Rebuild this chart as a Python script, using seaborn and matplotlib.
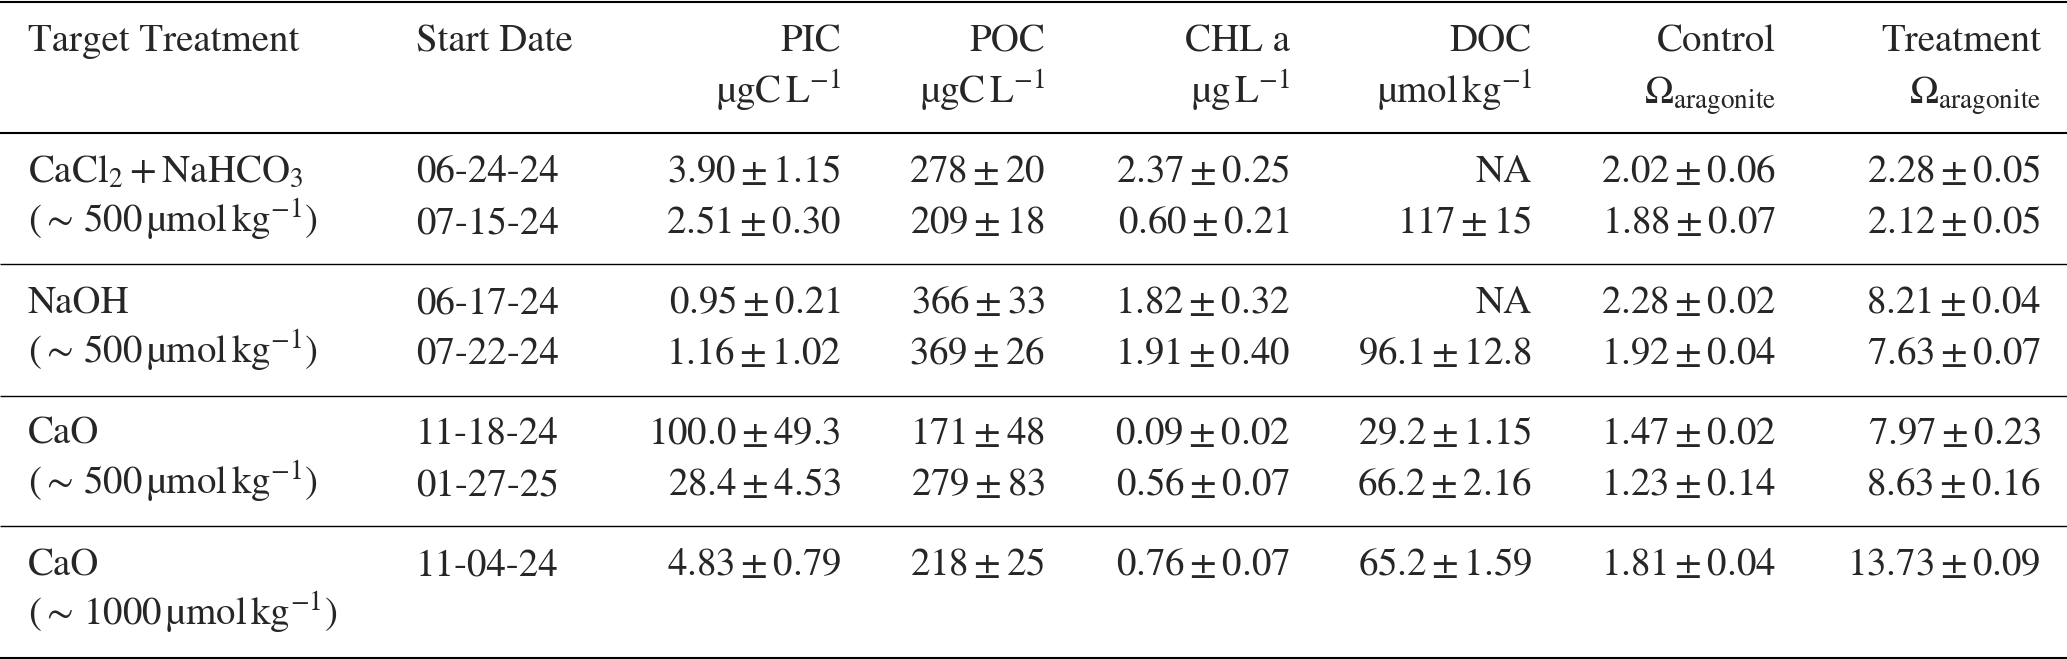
import matplotlib
matplotlib.use("Agg")
import matplotlib.pyplot as plt
import seaborn as sns

# ---------------- data ----------------
treatments = [r"$\mathrm{CaCl_2+NaHCO_3}$", "NaOH", "CaO", "CaO"]
doses = ["500", "500", "500", "1000"]
dates = [["06-24-24", "07-15-24"], ["06-17-24", "07-22-24"],
         ["11-18-24", "01-27-25"], ["11-04-24"]]
pic_mean = [["3.90", "2.51"], ["0.95", "1.16"], ["100.0", "28.4"], ["4.83"]]
pic_sd = [["1.15", "0.30"], ["0.21", "1.02"], ["49.3", "4.53"], ["0.79"]]
poc_mean = [["278", "209"], ["366", "369"], ["171", "279"], ["218"]]
poc_sd = [["20", "18"], ["33", "26"], ["48", "83"], ["25"]]
chl_mean = [["2.37", "0.60"], ["1.82", "1.91"], ["0.09", "0.56"], ["0.76"]]
chl_sd = [["0.25", "0.21"], ["0.32", "0.40"], ["0.02", "0.07"], ["0.07"]]
doc_mean = [["NA", "117"], ["NA", "96.1"], ["29.2", "66.2"], ["65.2"]]
doc_sd = [["", "15"], ["", "12.8"], ["1.15", "2.16"], ["1.59"]]
ctl_mean = [["2.02", "1.88"], ["2.28", "1.92"], ["1.47", "1.23"], ["1.81"]]
ctl_sd = [["0.06", "0.07"], ["0.02", "0.04"], ["0.02", "0.14"], ["0.04"]]
trt_mean = [["2.28", "2.12"], ["8.21", "7.63"], ["7.97", "8.63"], ["13.73"]]
trt_sd = [["0.05", "0.05"], ["0.04", "0.07"], ["0.23", "0.16"], ["0.09"]]

header1 = ["Target Treatment", "Start Date", "PIC", "POC", "CHL a", "DOC",
           "Control", "Treatment"]
header2 = ["", "", r"$\mathrm{µgC\,L^{-1}}$", r"$\mathrm{µgC\,L^{-1}}$",
           r"$\mathrm{µg\,L^{-1}}$", r"$\mathrm{µmol\,kg^{-1}}$",
           r"$\Omega_{\mathrm{aragonite}}$", r"$\Omega_{\mathrm{aragonite}}$"]

# ---------------- style ----------------
sns.set_theme(style="white")
plt.rcParams["font.family"] = ["STIXGeneral", "DejaVu Serif"]
plt.rcParams["mathtext.fontset"] = "stix"

W, H = 2067, 659
fig = plt.figure(figsize=(W / 100, H / 100), dpi=100)
ax = fig.add_axes([0, 0, 1, 1])
ax.set_xlim(0, W)
ax.set_ylim(H, 0)
ax.axis("off")

FS = 28
# column anchors: (x, ha)
cols = [(28, "left"), (416, "left"), (841, "right"), (1045, "right"),
        (1290, "right"), (1532, "right"), (1776, "right"), (2041, "right")]

# rules
thick = 1.5
thin = 1.0
ax.hlines([1.5, 657.5], 0, W, colors="black", lw=thick)
ax.hlines([133], 0, W, colors="black", lw=thick)
ax.hlines([264, 396, 526], 0, W, colors="black", lw=thin)

# header
for (x, ha), h1, h2 in zip(cols, header1, header2):
    ax.text(x, 51, h1, ha=ha, va="baseline", fontsize=FS)
    if h2:
        ax.text(x, 104, h2, ha=ha, va="baseline", fontsize=FS)


def pm(m, s):
    if not s:
        return m
    return rf"${m}\pm{s}$"


row0 = 182
gstep = 131
rstep = 51
for g in range(len(treatments)):
    yb = row0 + g * gstep
    ax.text(cols[0][0], yb, treatments[g], ha="left", va="baseline", fontsize=FS)
    ax.text(cols[0][0], yb + rstep,
            rf"$({{\sim}}\,{doses[g]}\,\mathrm{{µmol\,kg^{{-1}}}})$",
            ha="left", va="baseline", fontsize=FS)
    for r in range(len(dates[g])):
        y = yb + r * rstep
        cells = [dates[g][r],
                 pm(pic_mean[g][r], pic_sd[g][r]),
                 pm(poc_mean[g][r], poc_sd[g][r]),
                 pm(chl_mean[g][r], chl_sd[g][r]),
                 pm(doc_mean[g][r], doc_sd[g][r]),
                 pm(ctl_mean[g][r], ctl_sd[g][r]),
                 pm(trt_mean[g][r], trt_sd[g][r])]
        for (x, ha), c in zip(cols[1:], cells):
            ax.text(x, y, c, ha=ha, va="baseline", fontsize=FS)

fig.savefig("out.png", dpi=100, facecolor="white")
